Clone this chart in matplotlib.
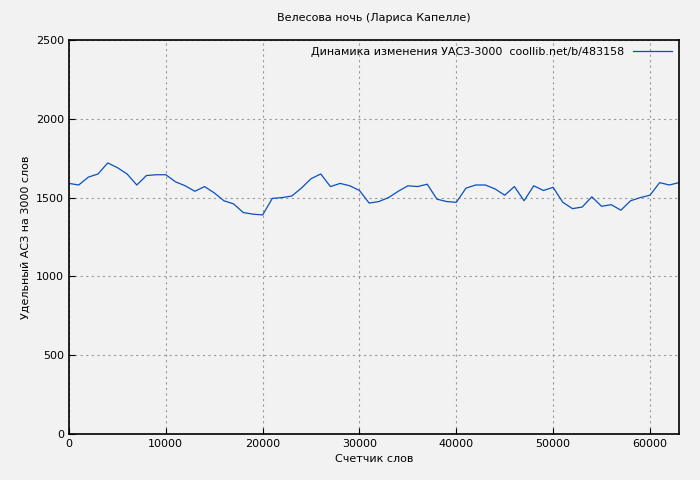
import matplotlib
matplotlib.use("Agg")
import matplotlib.pyplot as plt

x_words = list(range(0, 64000, 1000))
asz = [1590, 1580, 1630, 1650, 1720, 1690, 1650, 1580, 1640, 1645,
       1645, 1600, 1575, 1540, 1570, 1530, 1480, 1460, 1405, 1395,
       1390, 1495, 1500, 1510, 1560, 1620, 1650, 1570, 1590, 1575,
       1545, 1465, 1475, 1500, 1540, 1575, 1570, 1585, 1490, 1475,
       1470, 1560, 1580, 1580, 1555, 1515, 1570, 1480, 1575, 1545,
       1565, 1470, 1430, 1440, 1505, 1445, 1455, 1420, 1480, 1500,
       1515, 1595, 1580, 1595]

fig = plt.figure(figsize=(7, 4.8), dpi=100, facecolor="#f2f2f2")
ax = fig.add_axes([69/700, 46/480, 610/700, 394/480], facecolor="#f2f2f2")
ax.plot(x_words, asz, color="#0a4fbf", lw=0.9,
        label="Динамика изменения УАСЗ-3000  coollib.net/b/483158")
ax.set_xlim(0, 63000)
ax.set_ylim(0, 2500)
ax.set_xticks(range(0, 63000, 10000))
ax.set_yticks(range(0, 2501, 500))
ax.grid(True, color="#999999", linestyle=(0, (2, 3)), lw=0.8)
ax.tick_params(labelsize=8, direction="in", length=4)
for s in ax.spines.values():
    s.set_linewidth(1.2)
ax.set_xlabel("Счетчик слов", fontsize=8)
ax.set_ylabel("Удельный АСЗ на 3000 слов", fontsize=8)
ax.set_title("Велесова ночь (Лариса Капелле)", fontsize=8, pad=14)
ax.legend(loc="upper right", fontsize=8, frameon=False, handlelength=3.5,
          markerfirst=False, borderaxespad=0.2)
fig.savefig("out.png", dpi=100, facecolor=fig.get_facecolor())
